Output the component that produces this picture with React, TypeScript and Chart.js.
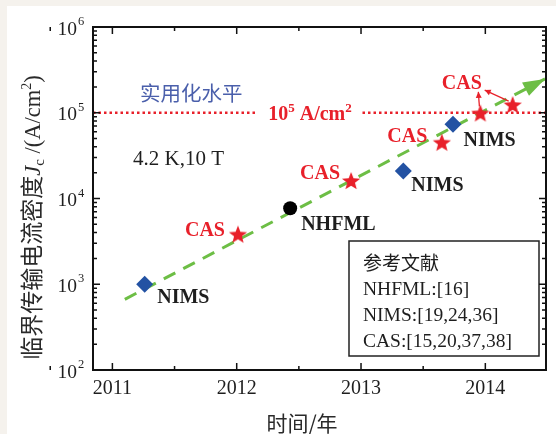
import React, { useEffect, useRef } from 'react';
import { Chart, registerables } from 'chart.js';

Chart.register(...registerables);

// ---------- data ----------
const xTickValues = [2011, 2012, 2013, 2014];
const xTickLabels = ['2011', '2012', '2013', '2014'];
const yTickExponents = [2, 3, 4, 5, 6];

const nimsYears = [2011.26, 2013.34, 2013.74];
const nimsJc = [1000, 20900, 73200];
const casYears = [2012.01, 2012.92, 2013.65, 2013.96, 2014.22];
const casJc = [3800, 16000, 44800, 98400, 123000];
const nhfmlYears = [2012.43];
const nhfmlJc = [7700];
const trendYears = [2011.1, 2014.48];
const trendJc = [667, 248000];
const practicalJc = 100000;

const X_MIN = 2010.844;
const X_MAX = 2014.488;
const Y_MIN = 100;
const Y_MAX = 1000000;

const legendLines = ['NHFML:[16]', 'NIMS:[19,24,36]', 'CAS:[15,20,37,38]'];

// ---------- style ----------
const RED = '#e8202a';
const BLUE = '#2352a3';
const GREEN = '#6dbe45';
const TEXT = '#1e1e1e';
const SERIF = '"Liberation Serif", "Times New Roman", serif';
const CJK = '"Noto Sans CJK SC", "Noto Sans CJK JP", sans-serif';

type Seg = { text: string; font: string; dy?: number; color?: string };

function richWidth(ctx: CanvasRenderingContext2D, segs: Seg[]) {
  let w = 0;
  for (const s of segs) {
    ctx.font = s.font;
    w += ctx.measureText(s.text).width;
  }
  return w;
}

function drawRich(ctx: CanvasRenderingContext2D, segs: Seg[], x: number, baseline: number, align: 'left' | 'center' | 'right', color: string) {
  const w = richWidth(ctx, segs);
  let cx = align === 'left' ? x : align === 'center' ? x - w / 2 : x - w;
  ctx.textAlign = 'left';
  ctx.textBaseline = 'alphabetic';
  for (const s of segs) {
    ctx.font = s.font;
    ctx.fillStyle = s.color || color;
    ctx.fillText(s.text, cx, baseline + (s.dy || 0));
    cx += ctx.measureText(s.text).width;
  }
}

function makeStar(R: number, r: number, color: string) {
  const size = Math.ceil(R * 2 + 2);
  const c = document.createElement('canvas');
  c.width = size;
  c.height = size;
  const g = c.getContext('2d')!;
  const cx = size / 2;
  const cy = size / 2 + 0.6;
  g.beginPath();
  for (let k = 0; k < 10; k++) {
    const rad = k % 2 === 0 ? R : r;
    const a = -Math.PI / 2 + (k * Math.PI) / 5;
    g.lineTo(cx + rad * Math.cos(a), cy + rad * Math.sin(a));
  }
  g.closePath();
  g.fillStyle = color;
  g.fill();
  return c;
}

// dataset indices: 0 trend, 1 practical line, 2 NIMS, 3 CAS, 4 NHFML
const pointLabels = [
  { ds: 2, i: 0, text: 'NIMS', color: TEXT, align: 'left', dx: 12.5, dy: 18.5 },
  { ds: 3, i: 0, text: 'CAS', color: RED, align: 'right', dx: -13, dy: 1 },
  { ds: 4, i: 0, text: 'NHFML', color: TEXT, align: 'left', dx: 11, dy: 21.5 },
  { ds: 3, i: 1, text: 'CAS', color: RED, align: 'right', dx: -11, dy: -2 },
  { ds: 2, i: 1, text: 'NIMS', color: TEXT, align: 'left', dx: 8, dy: 19.5 },
  { ds: 3, i: 2, text: 'CAS', color: RED, align: 'right', dx: -14.5, dy: -0.5 },
  { ds: 2, i: 2, text: 'NIMS', color: TEXT, align: 'left', dx: 10.5, dy: 22 },
  { ds: 3, i: 3, text: 'CAS', color: RED, align: 'center', dx: -18.5, dy: -24.3 },
];

const labelArrows = [
  { ds: 3, i: 3, sx: -1, sy: -7, ex: -2, ey: -21.5 },
  { ds: 3, i: 4, sx: -4, sy: -4, ex: -28, ey: -15 },
];

function arrowHead(ctx: CanvasRenderingContext2D, x0: number, y0: number, x1: number, y1: number, len: number, half: number, color: string) {
  const a = Math.atan2(y1 - y0, x1 - x0);
  ctx.beginPath();
  ctx.moveTo(x1, y1);
  ctx.lineTo(x1 - len * Math.cos(a) + half * Math.sin(a), y1 - len * Math.sin(a) - half * Math.cos(a));
  ctx.lineTo(x1 - len * Math.cos(a) - half * Math.sin(a), y1 - len * Math.sin(a) + half * Math.cos(a));
  ctx.closePath();
  ctx.fillStyle = color;
  ctx.fill();
}

const decorPlugin = {
  id: 'decor',
  afterDatasetsDraw(chart: any) {
    const ctx: CanvasRenderingContext2D = chart.ctx;
    const { left, right, top, bottom } = chart.chartArea;
    const xs = chart.scales.x;
    const ys = chart.scales.y;
    ctx.save();

    // trend arrow head
    const tm = chart.getDatasetMeta(0).data;
    if (tm.length >= 2) {
      const p0 = tm[tm.length - 2];
      const p1 = tm[tm.length - 1];
      arrowHead(ctx, p0.x, p0.y, p1.x, p1.y, 22, 7.5, GREEN);
    }

    // practical level label
    const yP = ys.getPixelForValue(practicalJc);
    const lblSegs: Seg[] = [
      { text: '10', font: `bold 20px ${SERIF}` },
      { text: '5', font: `bold 13px ${SERIF}`, dy: -8 },
      { text: ' A/cm', font: `bold 20px ${SERIF}` },
      { text: '2', font: `bold 13px ${SERIF}`, dy: -8 },
    ];
    const lcx = 310;
    ctx.fillStyle = '#ffffff';
    ctx.fillRect(lcx - 52, yP - 12, 104, 22);
    drawRich(ctx, lblSegs, lcx, yP + 7, 'center', RED);

    // point labels
    for (const l of pointLabels) {
      const el = chart.getDatasetMeta(l.ds).data[l.i];
      if (!el) continue;
      ctx.font = `bold 20px ${SERIF}`;
      ctx.fillStyle = l.color;
      ctx.textAlign = l.align as CanvasTextAlign;
      ctx.textBaseline = 'alphabetic';
      ctx.fillText(l.text, el.x + l.dx, el.y + l.dy);
    }
    // arrows from stars to top CAS label
    for (const a of labelArrows) {
      const el = chart.getDatasetMeta(a.ds).data[a.i];
      if (!el) continue;
      const x0 = el.x + a.sx, y0 = el.y + a.sy, x1 = el.x + a.ex, y1 = el.y + a.ey;
      ctx.strokeStyle = RED;
      ctx.lineWidth = 1.3;
      ctx.beginPath();
      ctx.moveTo(x0, y0);
      ctx.lineTo(x1, y1);
      ctx.stroke();
      arrowHead(ctx, x0, y0, x1, y1, 6, 3, RED);
    }

    // annotations
    ctx.font = `20.5px ${CJK}`;
    ctx.fillStyle = '#4a5fab';
    ctx.textAlign = 'left';
    ctx.textBaseline = 'middle';
    ctx.fillText('实用化水平', left + 47, top + 66);

    ctx.font = `21px ${SERIF}`;
    ctx.fillStyle = TEXT;
    ctx.textBaseline = 'alphabetic';
    ctx.fillText('4.2 K,10 T', left + 40, top + 138);

    // reference box
    const bx = 349, by = 241, bw = 190, bh = 115;
    ctx.fillStyle = '#ffffff';
    ctx.fillRect(bx, by, bw, bh);
    ctx.strokeStyle = '#222';
    ctx.lineWidth = 1.5;
    ctx.strokeRect(bx, by, bw, bh);
    ctx.fillStyle = TEXT;
    ctx.font = `19px ${CJK}`;
    ctx.textBaseline = 'middle';
    ctx.fillText('参考文献', bx + 14, by + 22);
    ctx.font = `19.5px ${SERIF}`;
    ctx.textBaseline = 'alphabetic';
    legendLines.forEach((t, k) => ctx.fillText(t, bx + 14, by + 54 + k * 25.8));

    // frame
    ctx.strokeStyle = '#111';
    ctx.lineWidth = 2;
    ctx.strokeRect(left, top, right - left, bottom - top);

    // ticks
    ctx.lineWidth = 1.5;
    ctx.beginPath();
    for (const v of xTickValues) {
      const px = xs.getPixelForValue(v);
      ctx.moveTo(px, bottom); ctx.lineTo(px, bottom - 7);
      ctx.moveTo(px, top); ctx.lineTo(px, top + 7);
    }
    for (let v = Math.floor(X_MIN) + 0.5; v <= X_MAX; v += 1) {
      const px = xs.getPixelForValue(v);
      ctx.moveTo(px, bottom); ctx.lineTo(px, bottom - 4);
      ctx.moveTo(px, top); ctx.lineTo(px, top + 4);
    }
    for (const e of yTickExponents) {
      const py = ys.getPixelForValue(Math.pow(10, e));
      ctx.moveTo(left, py); ctx.lineTo(left + 7, py);
      ctx.moveTo(right, py); ctx.lineTo(right - 7, py);
      if (e < yTickExponents[yTickExponents.length - 1]) {
        for (let m = 2; m <= 9; m++) {
          const pm = ys.getPixelForValue(m * Math.pow(10, e));
          ctx.moveTo(left, pm); ctx.lineTo(left + 4, pm);
          ctx.moveTo(right, pm); ctx.lineTo(right - 4, pm);
        }
      }
    }
    ctx.stroke();

    // y tick labels
    for (const e of yTickExponents) {
      const py = ys.getPixelForValue(Math.pow(10, e));
      ctx.fillStyle = TEXT;
      ctx.font = `19.5px ${SERIF}`;
      ctx.textAlign = 'right';
      ctx.textBaseline = 'alphabetic';
      ctx.fillText('10', left - 16, py + 7.5);
      ctx.font = `12.5px ${SERIF}`;
      ctx.textAlign = 'left';
      ctx.fillText(String(e), left - 15, py - 2);
    }

    // y title
    ctx.save();
    ctx.translate(31, (top + bottom) / 2 + 19);
    ctx.rotate(-Math.PI / 2);
    const ySegs: Seg[] = [
      { text: '临界传输电流密度', font: `23px ${CJK}` },
      { text: 'J', font: `italic 22.5px ${SERIF}` },
      { text: 'c', font: `15px ${SERIF}`, dy: 4 },
      { text: ' /(A/cm', font: `22.5px ${SERIF}` },
      { text: '2', font: `14px ${SERIF}`, dy: -9 },
      { text: ')', font: `22.5px ${SERIF}` },
    ];
    drawRich(ctx, ySegs, 0, 8.5, 'center', '#2a2a2a');
    ctx.restore();

    // x title
    ctx.font = `21px ${CJK}`;
    ctx.fillStyle = '#2a2a2a';
    ctx.textAlign = 'center';
    ctx.textBaseline = 'middle';
    ctx.fillText('时间/年', 302, 423);

    ctx.restore();
  },
};

export default function App() {
  const ref = useRef<HTMLCanvasElement | null>(null);

  useEffect(() => {
    if (!ref.current) return;
    const star = makeStar(9.6, 4.1, RED);
    const chart = new Chart(ref.current, {
      type: 'scatter',
      data: {
        datasets: [
          {
            type: 'line',
            data: trendYears.map((x, i) => ({ x, y: trendJc[i] })),
            borderColor: GREEN,
            borderWidth: 3,
            borderDash: [13, 9],
            pointRadius: 0,
            fill: false,
            order: 3,
          } as any,
          {
            type: 'line',
            data: [X_MIN, X_MAX].map((x) => ({ x, y: practicalJc })),
            borderColor: RED,
            borderWidth: 2.5,
            borderDash: [2.5, 3],
            pointRadius: 0,
            fill: false,
            order: 4,
          } as any,
          {
            data: nimsYears.map((x, i) => ({ x, y: nimsJc[i] })),
            pointStyle: 'rectRot',
            pointRadius: 8.5,
            backgroundColor: BLUE,
            borderColor: BLUE,
            borderWidth: 0,
            order: 0,
          },
          {
            data: casYears.map((x, i) => ({ x, y: casJc[i] })),
            pointStyle: star as any,
            pointRadius: 9,
            backgroundColor: RED,
            borderColor: RED,
            order: 0,
          },
          {
            data: nhfmlYears.map((x, i) => ({ x, y: nhfmlJc[i] })),
            pointStyle: 'circle',
            pointRadius: 7,
            backgroundColor: '#000000',
            borderColor: '#000000',
            borderWidth: 0,
            order: 0,
          },
        ],
      },
      options: {
        animation: false,
        responsive: false,
        events: [],
        layout: { padding: { left: 0, right: 2, top: 27, bottom: 0 } },
        plugins: { legend: { display: false }, tooltip: { enabled: false } },
        scales: {
          x: {
            type: 'linear',
            min: X_MIN,
            max: X_MAX,
            grid: { display: false, drawTicks: false },
            border: { display: false },
            afterBuildTicks: (s: any) => {
              s.ticks = xTickValues.map((v) => ({ value: v }));
            },
            afterFit: (s: any) => {
              s.height = 64;
            },
            ticks: {
              autoSkip: false,
              maxRotation: 0,
              padding: 7,
              color: TEXT,
              font: { family: SERIF, size: 20 },
              callback: (v: any) => xTickLabels[xTickValues.indexOf(Number(v))] ?? '',
            },
          },
          y: {
            type: 'logarithmic',
            min: Y_MIN,
            max: Y_MAX,
            grid: { display: false, drawTicks: false },
            border: { display: false },
            ticks: { display: false },
            afterFit: (s: any) => {
              s.width = 93;
            },
          },
        },
      } as any,
      plugins: [decorPlugin],
    });
    return () => chart.destroy();
  }, []);

  return (
    <div style={{ position: 'absolute', left: 0, top: 0, width: 556, height: 434, background: '#f5f2ed', overflow: 'hidden' }}>
      <div style={{ position: 'absolute', left: 7, top: 6, right: 0, bottom: 0, background: '#ffffff' }} />
      <canvas ref={ref} width={556} height={434} style={{ position: 'absolute', left: 0, top: 0, width: 556, height: 434 }} />
    </div>
  );
}
